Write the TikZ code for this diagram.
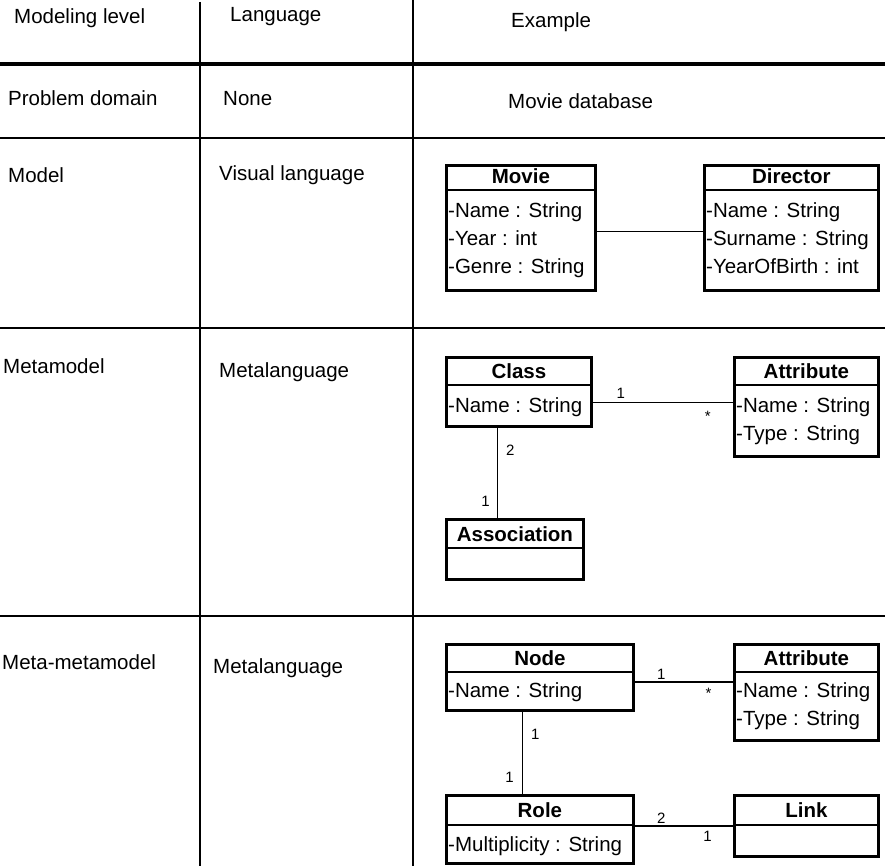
\documentclass[tikz,border=0pt]{standalone}
\usepackage{fontspec}
\setmainfont{Liberation Sans}
\usepackage{tikz}
\usetikzlibrary{positioning}

\tikzset{
  rule/.style={line width=1.3pt},
  thickrule/.style={line width=4pt},
  celltxt/.style={anchor=base west, inner sep=0pt, font=\fontsize{20.5}{24}\selectfont},
  umlbox/.style={draw, line width=2.8pt, anchor=north west, inner sep=0pt},
  headline/.style={line width=2pt},
  headtxt/.style={anchor=base, inner sep=0pt, font=\fontsize{20.5}{24}\selectfont\bfseries},
  attrtxt/.style={anchor=base west, inner sep=0pt, font=\fontsize{20.5}{24}\selectfont},
  assoc/.style={line width=1.3pt},
  mult/.style={inner sep=2pt, font=\fontsize{15}{17}\selectfont}
}

\begin{document}
\begin{tikzpicture}[x=1pt,y=-1pt]
\useasboundingbox (0,0) rectangle (885,866);
%-------->table lines<--------------
\draw [rule] (200,2) -- (200,866);
\draw [rule] (413,0) -- (413,866);
\draw [thickrule] (0,64) -- (885,64);
\draw [rule] (0,138) -- (885,138);
\draw [rule] (0,328) -- (885,328);
\draw [rule] (0,616) -- (885,616);
%-------->table texts<--------------
\node [celltxt] (hlevel) at (14,24) {Modeling level};
\node [celltxt] (hlang) at (230,22) {Language};
\node [celltxt] (hex) at (511,28) {Example};
\node [celltxt] (domain) at (8,106) {Problem domain};
\node [celltxt] (none) at (223,106) {None};
\node [celltxt] (moviedb) at (508,109) {Movie database};
\node [celltxt] (model) at (8,183) {Model};
\node [celltxt] (visual) at (219,181) {Visual language};
\node [celltxt] (meta) at (3,373) {Metamodel};
\node [celltxt] (metalang) at (219,377) {Metalanguage};
\node [celltxt] (metameta) at (2,669) {Meta-metamodel};
\node [celltxt] (metalang2) at (213,673) {Metalanguage};
%-------------> model: Movie / Director <-----------------
\node [umlbox, minimum width=149pt, minimum height=125pt] (movie) at (445,164) {};
\draw [headline] ([yshift=-26pt]movie.north west) -- ([yshift=-26pt]movie.north east);
\node [headtxt] (movie-h) at ([yshift=-20pt]movie.north) {Movie};
\node [attrtxt] (movie-a1) at ([xshift=3pt,yshift=-54pt]movie.north west) {-Name : String};
\node [attrtxt] (movie-a2) at ([xshift=3pt,yshift=-82pt]movie.north west) {-Year : int};
\node [attrtxt] (movie-a3) at ([xshift=3pt,yshift=-110pt]movie.north west) {-Genre : String};

\node [umlbox, minimum width=174pt, minimum height=125pt] (director) at (703,164) {};
\draw [headline] ([yshift=-26pt]director.north west) -- ([yshift=-26pt]director.north east);
\node [headtxt] (director-h) at ([yshift=-20pt]director.north) {Director};
\node [attrtxt] (director-a1) at ([xshift=3pt,yshift=-54pt]director.north west) {-Name : String};
\node [attrtxt] (director-a2) at ([xshift=3pt,yshift=-82pt]director.north west) {-Surname : String};
\node [attrtxt] (director-a3) at ([xshift=3pt,yshift=-110pt]director.north west) {-YearOfBirth : int};

\draw [assoc] ([yshift=-3.5pt]movie.east) -- ([yshift=-3.5pt]director.west);
%-------------> metamodel: Class / Attribute / Association <-----------------
\node [umlbox, minimum width=145pt, minimum height=69pt] (class) at (445,356) {};
\draw [headline] ([yshift=-29pt]class.north west) -- ([yshift=-29pt]class.north east);
\node [headtxt] (class-h) at ([yshift=-22pt]class.north) {Class};
\node [attrtxt] (class-a1) at ([xshift=3pt,yshift=-56pt]class.north west) {-Name : String};

\node [umlbox, minimum width=144pt, minimum height=99pt] (attr) at (733,356) {};
\draw [headline] ([yshift=-29pt]attr.north west) -- ([yshift=-29pt]attr.north east);
\node [headtxt] (attr-h) at ([yshift=-22pt]attr.north) {Attribute};
\node [attrtxt] (attr-a1) at ([xshift=3pt,yshift=-56pt]attr.north west) {-Name : String};
\node [attrtxt] (attr-a2) at ([xshift=3pt,yshift=-84pt]attr.north west) {-Type : String};

\node [umlbox, minimum width=137pt, minimum height=60pt] (association) at (445,518) {};
\draw [headline] ([yshift=-30pt]association.north west) -- ([yshift=-30pt]association.north east);
\node [headtxt] (association-h) at ([yshift=-23pt]association.north) {Association};

\draw [assoc] ([yshift=-10.5pt]class.east) -- node[mult, pos=0.2, above, yshift=1pt] (m1) {1} node[mult, pos=0.82, below, yshift=-6pt] (m2) {*} ([yshift=-10.5pt]class.east -| attr.west);
\draw [assoc] ([xshift=-21.5pt]class.south) -- node[mult, pos=0.25, right, xshift=6pt] (m3) {2} node[mult, pos=0.82, left, xshift=-5pt] (m4) {1} ([xshift=-21.5pt]class.south |- association.north);
%-------------> meta-metamodel: Node / Attribute / Role / Link <-----------------
\node [umlbox, minimum width=187pt, minimum height=66pt] (node) at (445,643) {};
\draw [headline] ([yshift=-29pt]node.north west) -- ([yshift=-29pt]node.north east);
\node [headtxt] (node-h) at ([yshift=-22pt]node.north) {Node};
\node [attrtxt] (node-a1) at ([xshift=3pt,yshift=-54pt]node.north west) {-Name : String};

\node [umlbox, minimum width=144pt, minimum height=96pt] (attrb) at (733,643) {};
\draw [headline] ([yshift=-29pt]attrb.north west) -- ([yshift=-29pt]attrb.north east);
\node [headtxt] (attrb-h) at ([yshift=-22pt]attrb.north) {Attribute};
\node [attrtxt] (attrb-a1) at ([xshift=3pt,yshift=-54pt]attrb.north west) {-Name : String};
\node [attrtxt] (attrb-a2) at ([xshift=3pt,yshift=-82pt]attrb.north west) {-Type : String};

\node [umlbox, minimum width=187pt, minimum height=68pt] (role) at (445,794) {};
\draw [headline] ([yshift=-31pt]role.north west) -- ([yshift=-31pt]role.north east);
\node [headtxt] (role-h) at ([yshift=-23pt]role.north) {Role};
\node [attrtxt] (role-a1) at ([xshift=3pt,yshift=-57pt]role.north west) {-Multiplicity : String};

\node [umlbox, minimum width=144pt, minimum height=61pt] (link) at (733,794) {};
\draw [headline] ([yshift=-31pt]link.north west) -- ([yshift=-31pt]link.north east);
\node [headtxt] (link-h) at ([yshift=-23pt]link.north) {Link};

\draw [assoc] ([yshift=-4.5pt]node.east) -- node[mult, pos=0.27, above] (m5) {1} node[mult, pos=0.75, below, yshift=-4pt] (m6) {*} ([yshift=-4.5pt]node.east -| attrb.west);
\draw [assoc] ([xshift=-17.5pt]node.south) -- node[mult, pos=0.28, right, xshift=6pt] (m7) {1} node[mult, pos=0.8, left, xshift=-6pt] (m8) {1} ([xshift=-17.5pt]node.south |- role.north);
\draw [assoc] (link.west -| role.east) -- node[mult, pos=0.27, above] (m9) {2} node[mult, pos=0.74, below, yshift=-3pt] (m10) {1} (link.west);
\end{tikzpicture}
\end{document}
